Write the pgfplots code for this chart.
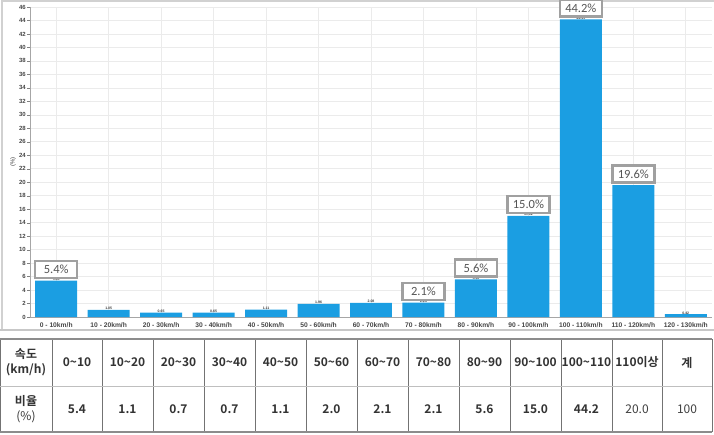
\documentclass[border=0pt]{standalone}
\usepackage{pgfplots}
\pgfplotsset{compat=1.18}
\usepackage{pgfplotstable}
\usepackage{fontspec}
\setmainfont{Liberation Sans}
\newfontfamily\kr{Noto Sans CJK KR}[BoldFont={Noto Sans CJK KR Bold}]
\newfontfamily\labfont{Carlito}
\definecolor{barblue}{RGB}{27,158,226}
\definecolor{boxgray}{RGB}{160,160,160}
\definecolor{labtext}{RGB}{85,85,85}
\definecolor{tick}{RGB}{70,70,70}

\pgfplotstableread{
x val small
0 5.38 5.38
1 1.05 1.05
2 0.65 0.65
3 0.65 0.65
4 1.11 1.11
5 1.96 1.96
6 2.08 2.08
7 2.14 2.14
8 5.58 5.58
9 15.02 15.02
10 44.15 44.15
11 19.58 19.58
12 0.42 0.42
}\bars

\pgfplotstableread{
x val lab
0 5.38 5.4\%
7 2.14 2.1\%
8 5.58 5.6\%
9 15.02 15.0\%
10 44.15 44.2\%
11 19.58 19.6\%
}\boxes

\begin{document}
\begin{tikzpicture}[x=1pt,y=1pt]
\path[use as bounding box] (0,0) rectangle (714,434);
% outer frame of the chart
\draw[black!18, line width=2pt] (1.5,104) -- (1.5,433) -- (714,433);
\draw[black!22, line width=1.5pt] (0,104) -- (714,104);

\begin{axis}[
  at={(30pt,117pt)}, anchor=south west,
  scale only axis, width=682pt, height=310pt,
  xmin=-0.5, xmax=12.5, ymin=0, ymax=46,
  clip=false,
  axis x line*=bottom, axis y line*=left,
  axis line style={black!35},
  ytick={0,2,...,46},
  xtick={0,...,12},
  xticklabels={0 - 10km/h,10 - 20km/h,20 - 30km/h,30 - 40km/h,40 - 50km/h,50 - 60km/h,60 - 70km/h,70 - 80km/h,80 - 90km/h,90 - 100km/h,100 - 110km/h,110 - 120km/h,120 - 130km/h},
  xticklabel style={font=\fontsize{6.7}{7}\selectfont\bfseries, text=tick, inner sep=1pt, yshift=-1pt},
  yticklabel style={font=\fontsize{6}{6.5}\selectfont\bfseries, text=tick, inner sep=1pt},
  /pgf/number format/assume math mode=true,
  major x tick style={draw=none},
  major y tick style={black!50},
  tick align=outside,
  major tick length=3pt,
  grid=major,
  major grid style={black!8, line width=0.6pt},
  ylabel={(\%)},
  ylabel style={font=\fontsize{6}{6.5}\selectfont, text=tick, at={(axis description cs:0,0.5)}, anchor=center, yshift=17pt},
]
\addplot[ybar, bar width=0.8, fill=barblue, draw=none,
  nodes near coords, point meta=explicit symbolic,
  every node near coord/.append style={font=\fontsize{3.5}{4}\selectfont\bfseries, text=black!75, yshift=-3.5pt}]
  table[x=x, y=val, meta=small] {\bars};
\addplot[draw=none, mark=none,
  nodes near coords, point meta=explicit symbolic,
  every node near coord/.append style={anchor=south, yshift=1.5pt, draw=boxgray, line width=2.5pt, fill=white,
    text=labtext, font=\labfont\fontsize{12.5}{13}\selectfont, minimum width=42pt, minimum height=17pt, inner sep=0pt}]
  table[x=x, y=val, meta=lab] {\boxes};
\end{axis}

% table below the chart
\fill[white] (0,2) rectangle (712,95);
\foreach \xx in {52,102,153,204,255,306,357,408,459,510,561,612,662}
  \draw[black!55, line width=0.9pt] (\xx,2) -- (\xx,95);
\draw[black!55, line width=0.9pt] (0.5,2) -- (0.5,95);
\draw[black!55, line width=0.9pt] (712,2) -- (712,95);
\draw[black!25, line width=1pt] (0,48) -- (712,48);
\draw[black!45, line width=1.8pt] (0,95) -- (712,95);
\draw[black!45, line width=1.8pt] (0,2) -- (712,2);

\node[align=center, font=\kr\bfseries\fontsize{12}{15}\selectfont, text=black!80] at (26,71.5) {속도\\(km/h)};
\node[align=center, font=\kr\fontsize{12}{15}\selectfont, text=black!80] at (26,25) {\textbf{비율}\\(\%)};

\foreach \c/\h/\v/\w in {
  77/0\textasciitilde 10/5.4/b,
  127.5/10\textasciitilde 20/1.1/b,
  178.5/20\textasciitilde 30/0.7/b,
  229.5/30\textasciitilde 40/0.7/b,
  280.5/40\textasciitilde 50/1.1/b,
  331.5/50\textasciitilde 60/2.0/b,
  382.5/60\textasciitilde 70/2.1/b,
  433.5/70\textasciitilde 80/2.1/b,
  484.5/80\textasciitilde 90/5.6/b,
  535.5/90\textasciitilde 100/15.0/b,
  586.5/100\textasciitilde 110/44.2/b,
  637/110이상/20.0/n,
  687/계/100/n}
{
  \node[font=\kr\bfseries\fontsize{12}{14}\selectfont, text=black!80, inner sep=0pt] at (\c,71.5) {\h};
  \if b\w
    \node[font=\kr\bfseries\fontsize{12}{14}\selectfont, text=black!80] at (\c,25) {\v};
  \else
    \node[font=\kr\fontsize{12}{14}\selectfont, text=black!75] at (\c,25) {\v};
  \fi
}
\end{tikzpicture}
\end{document}
